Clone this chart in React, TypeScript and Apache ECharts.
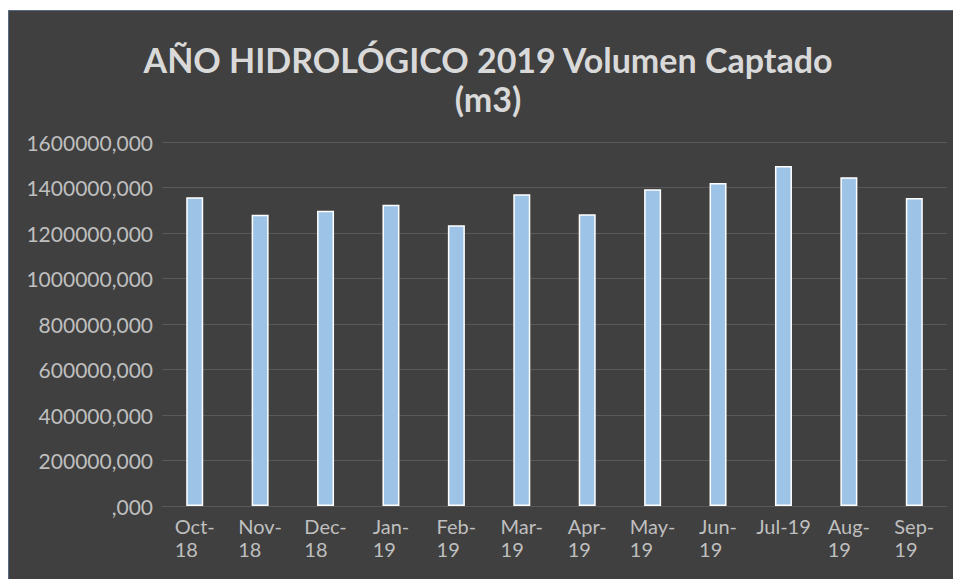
import React, { useEffect, useRef } from "react";
import * as echarts from "echarts";

const categories = ["Oct-\n18", "Nov-\n18", "Dec-\n18", "Jan-\n19", "Feb-\n19", "Mar-\n19", "Apr-\n19", "May-\n19", "Jun-\n19", "Jul-19", "Aug-\n19", "Sep-\n19"];
const volumes = [1357000, 1280000, 1298000, 1324000, 1234000, 1370000, 1282000, 1392000, 1420000, 1494000, 1445000, 1354000];
const titleText = "AÑO HIDROLÓGICO 2019 Volumen Captado\n(m3)";
const yMin = 0;
const yMax = 1600000;
const yInterval = 200000;

export default function App() {
  const ref = useRef<HTMLDivElement>(null);
  useEffect(() => {
    if (!ref.current) return;
    document.body.style.overflow = "hidden";
    const chart = echarts.init(ref.current, null, { renderer: "svg" });
    chart.setOption({
      animation: false,
      backgroundColor: "#404040",
      title: {
        text: titleText,
        left: 479,
        top: 29,
        padding: 0,
        textAlign: "center",
        textStyle: {
          color: "#d9d9d9",
          fontFamily: "Lato",
          fontWeight: "bold",
          fontSize: 34,
          lineHeight: 39,
        },
      },
      grid: { left: 153, right: 6, top: 131, bottom: 73 },
      xAxis: {
        type: "category",
        data: categories,
        axisLine: { show: true, lineStyle: { color: "#595959", width: 1 } },
        axisTick: { show: false },
        axisLabel: {
          interval: 0,
          margin: 8,
          color: "#bfbfbf",
          fontFamily: "Lato",
          fontSize: 20,
          lineHeight: 23,
          formatter: (v: string) => v.split("\n").map((s) => `{a|${s}}`).join("\n"),
          rich: { a: { align: "left", color: "#bfbfbf", fontFamily: "Lato", fontSize: 20, lineHeight: 23 } },
        },
      },
      yAxis: {
        type: "value",
        min: yMin,
        max: yMax,
        interval: yInterval,
        axisLine: { show: false },
        axisTick: { show: false },
        splitLine: { lineStyle: { color: "#595959", width: 1 } },
        axisLabel: {
          margin: 9,
          color: "#bfbfbf",
          fontFamily: "Lato",
          fontSize: 21,
          formatter: (v: number) => (v === 0 ? ",000" : `${v},000`),
        },
      },
      series: [
        {
          type: "bar",
          data: volumes,
          barWidth: 17,
          itemStyle: { color: "#9dc3e6", borderColor: "#ffffff", borderWidth: 1.5 },
        },
      ],
    });
    return () => chart.dispose();
  }, []);
  return (
    <div
      style={{
        position: "fixed",
        left: 8,
        top: 10,
        width: 945,
        height: 569,
        boxSizing: "border-box",
        borderLeft: "1px solid #5a6a80",
        borderTop: "1px solid #5a6a80",
        background: "#404040",
      }}
    >
      <div ref={ref} style={{ width: 944, height: 568 }} />
    </div>
  );
}
